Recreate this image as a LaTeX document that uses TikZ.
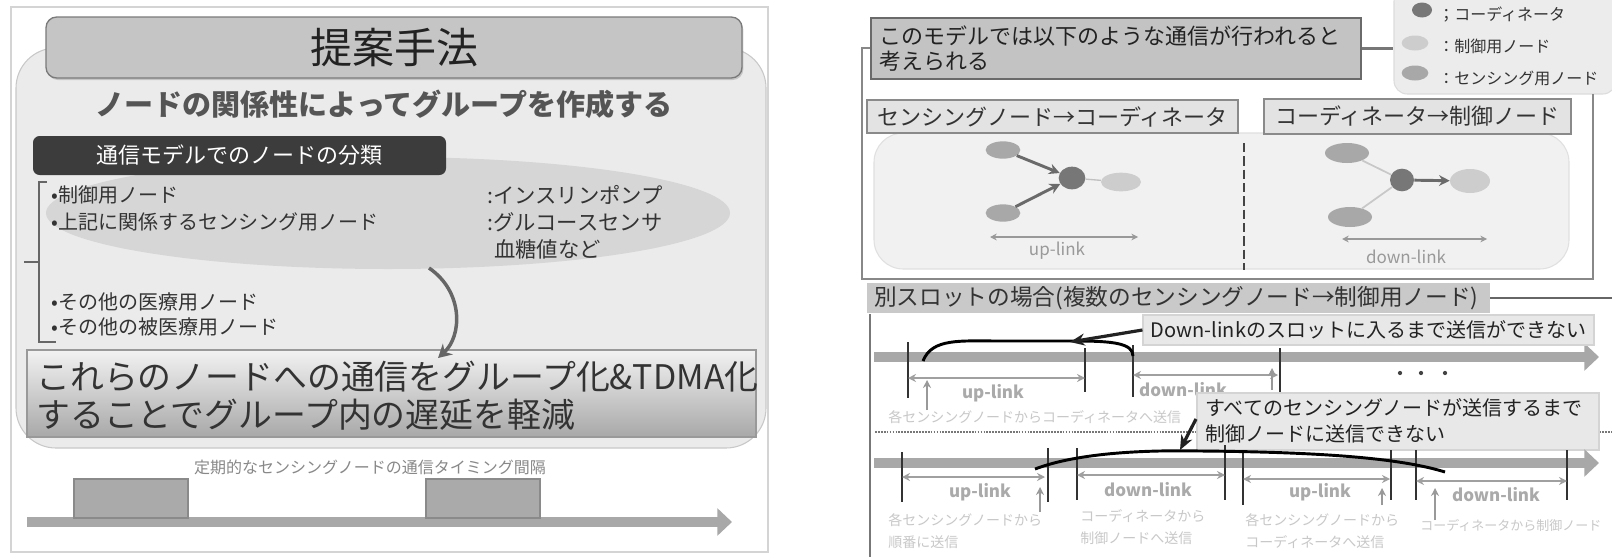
\documentclass[tikz,border=0pt]{standalone}
\usepackage{fontspec}
\setmainfont{Noto Sans CJK JP}
\usetikzlibrary{fit,shapes.geometric,arrows.meta,shadows}
\definecolor{c22}{HTML}{222222}
\definecolor{c33}{HTML}{333333}
\definecolor{c3C}{HTML}{3C3C3C}
\definecolor{c44}{HTML}{444444}
\definecolor{c55}{HTML}{555555}
\definecolor{c66}{HTML}{666666}
\definecolor{c6A}{HTML}{6A6A6A}
\definecolor{c77}{HTML}{777777}
\definecolor{c7A}{HTML}{7A7A7A}
\definecolor{c88}{HTML}{888888}
\definecolor{c8A}{HTML}{8A8A8A}
\definecolor{c99}{HTML}{999999}
\definecolor{cA0}{HTML}{A0A0A0}
\definecolor{cA8}{HTML}{A8A8A8}
\definecolor{cAA}{HTML}{AAAAAA}
\definecolor{cC0}{HTML}{C0C0C0}
\definecolor{cC3}{HTML}{C3C3C3}
\definecolor{cC5}{HTML}{C5C5C5}
\definecolor{cC8}{HTML}{C8C8C8}
\definecolor{cC9}{HTML}{C9C9C9}
\definecolor{cCD}{HTML}{CDCDCD}
\definecolor{cD4}{HTML}{D4D4D4}
\definecolor{cD6}{HTML}{D6D6D6}
\definecolor{cDC}{HTML}{DCDCDC}
\definecolor{cE0}{HTML}{E0E0E0}
\definecolor{cE3}{HTML}{E3E3E3}
\definecolor{cE8}{HTML}{E8E8E8}
\definecolor{cEB}{HTML}{EBEBEB}
\definecolor{cEC}{HTML}{ECECEC}
\definecolor{cF1}{HTML}{F1F1F1}
\definecolor{cF2}{HTML}{F2F2F2}
\newcommand\fz[2]{\fontsize{#1pt}{#2pt}\selectfont}
\tikzset{
  txt/.style={inner sep=0pt,text=c33},
  boxfit/.style={inner sep=0pt},
  tickline/.style={draw=c33,line width=1.9pt},
  linkarr/.style={draw=cA0,line width=1.8pt,{Stealth[length=6pt,width=6pt]}-{Stealth[length=6pt,width=6pt]}},
  thinlink/.style={draw=c99,line width=1.1pt,{Stealth[length=5pt,width=5pt]}-{Stealth[length=5pt,width=5pt]}},
  uparr/.style={draw=c99,line width=1.8pt,-{Stealth[length=6pt,width=6pt]}},
  linklbl/.style={inner sep=0pt,text=cAA,font=\bfseries\fz{12.75}{14}},
  scenelbl/.style={inner sep=0pt,text=c99,font=\fz{12.75}{14}},
  band/.style={draw=cA8,line width=7pt,-{Triangle[length=11pt,width=20pt]}},
  curveline/.style={draw=black,line width=2.2pt},
  calarr/.style={draw=c22,line width=2.4pt,-{Stealth[length=11pt,width=9pt]}},
  garble/.style={inner sep=0pt,text=cC8,font=\fz{10.5}{17}},
  callout/.style={inner sep=0pt,fill=cE8,draw=cD4,line width=0.8pt},
  bullet/.style={inner sep=0pt,anchor=west,text=c33,font=\fz{15}{17}},
  sensing/.style={ellipse,fill=cA8,inner sep=0pt},
  coord/.style={ellipse,fill=c77,inner sep=0pt},
  control/.style={ellipse,fill=cCD,inner sep=0pt},
  heavyarr/.style={draw=c6A,line width=2.2pt,-{Stealth[length=8pt,width=8pt]}},
  legtxt/.style={inner sep=0pt,anchor=west,text=c33,font=\fz{12}{14}}
}
\begin{document}
\begin{tikzpicture}[x=0.75pt,y=-0.75pt]
\useasboundingbox[fill=white] (0,0) rectangle (1612,557);

% ================= LEFT =================
\node[boxfit,fit={(11,7)(768,552)},draw=cD4,line width=0.8pt] (frameL) {};
\node[boxfit,fit={(16,48)(766,448)},draw=cC8,fill=cEB,rounded corners=30pt,line width=0.8pt] (panel) {};
\node[boxfit,fit={(46,17)(742,78)},draw=c7A,fill=cC5,rounded corners=8pt,line width=1pt,
      drop shadow={opacity=0.35,shadow xshift=1pt,shadow yshift=-1.5pt}] (title) {};
\node[txt,font=\fz{31.5}{34},text=c22] (titlet) at (title.center) {提案手法};
\node[txt,font=\bfseries\fz{21.8}{24},text=c55] (sub) at (384,104) {ノードの関係性によってグループを作成する};
\node[ellipse,fill=cD6,minimum width=513pt,minimum height=84pt,inner sep=0pt] (ell) at (388,213) {};
\node[boxfit,fit={(33,136)(446,175)},fill=c3C,rounded corners=5pt] (cat) {};
\node[txt,font=\fz{16.5}{18},text=white] (catt) at (cat.center) {通信モデルでのノードの分類};

\coordinate (brT) at (47,182);
\coordinate (brB) at (56,342);
\coordinate (brM) at (24,262);
\draw[c66,line width=1pt] (brT) -- (39,182) -- (39,342) -- (brB);
\draw[c66,line width=1pt] (39,262) -- (brM);

\node[bullet] (b1) at (51,195) {•制御用ノード};
\node[bullet] (b2) at (51,222) {•上記に関係するセンシング用ノード};
\node[bullet,font=\fz{16}{18}] (e1) at (487,195) {:インスリンポンプ};
\node[bullet,font=\fz{16}{18}] (e2) at (487,222) {:グルコースセンサ};
\node[bullet,font=\fz{16}{18}] (e3) at (494,249) {血糖値など};
\node[bullet] (b3) at (51,302) {•その他の医療用ノード};
\node[bullet] (b4) at (51,327) {•その他の被医療用ノード};

\node[boxfit,fit={(27,350)(756,437)},draw=c99,top color=cF2,bottom color=cA8,line width=0.8pt] (big) {};
\node[txt,anchor=west,align=left,font=\fz{25.4}{28.5}] (bigt) at (36,396)
  {これらのノードへの通信をグループ化\&TDMA化\\することでグループ内の遅延を軽減};

\coordinate (ca1) at (429,268);
\coordinate (ca2) at (438,358);
\draw[c66,line width=2.6pt,-{Stealth[length=10pt,width=11pt]}] (ca1) .. controls (464,292) and (462,336) .. (ca2);

\node[txt,font=\fz{12}{14},text=c88] (gapl) at (370,467) {定期的なセンシングノードの通信タイミング間隔};
\coordinate (tl0) at (27,522);
\coordinate (tl1) at (732,522);
\draw[band] (tl0) -- (tl1);
\node[boxfit,fit={(74,479)(188,518)},fill=cAA,draw=c8A,line width=1pt] (slotA) {};
\node[boxfit,fit={(426,479)(540,518)},fill=cAA,draw=c8A,line width=1pt] (slotB) {};

% ================= RIGHT TOP =================
\node[boxfit,fit={(1394,-12)(1616,94)},fill=cEC,draw=cDC,rounded corners=10pt,line width=0.8pt] (legend) {};
\node[coord,minimum width=15pt,minimum height=11.25pt] (lgC) at (1422,10) {};
\node[control,minimum width=20pt,minimum height=11.25pt] (lgK) at (1415,43) {};
\node[sensing,minimum width=20pt,minimum height=11.25pt] (lgS) at (1415,73) {};
\node[legtxt] (lgCt) at (1438,15) {；コーディネータ};
\node[legtxt] (lgKt) at (1438,46) {：制御用ノード};
\node[legtxt] (lgSt) at (1438,78) {：センシング用ノード};

\node[boxfit,fit={(871,18)(1361,79)},fill=cC3,draw=c6A,line width=1.8pt] (model) {};
\node[txt,anchor=west,align=left,font=\fz{16.5}{18.75},text=c22] (modelt) at (879,49)
  {このモデルでは以下のような通信が行われると\\考えられる};
\draw[c77,line width=1.8pt] (model.east) -- (model.east -| legend.west);
\coordinate (fr1) at (862,48);
\coordinate (fr2) at (862,279);
\coordinate (fr3) at (1593,279);
\coordinate (fr4) at (1593,94);
\draw[c88,line width=1.5pt] (model.west |- fr1) -- (fr1) -- (fr2) -- (fr3) -- (fr4);

\node[boxfit,fit={(874,133)(1569,269)},fill=cF1,draw=cE0,rounded corners=22pt,line width=0.8pt] (scene) {};
\node[boxfit,fit={(867,100)(1238,133)},fill=cE3,draw=c8A,line width=1.2pt] (h1) {};
\node[txt,font=\fz{16.5}{18}] (h1t) at (h1.center) {センシングノード→コーディネータ};
\node[boxfit,fit={(1264,99)(1571,134)},fill=cE3,draw=c8A,line width=1.2pt] (h2) {};
\node[txt,font=\fz{16.5}{18}] (h2t) at (h2.center) {コーディネータ→制御ノード};
\coordinate (dv1) at (1244,143);
\coordinate (dv2) at (1244,270);
\draw[c44,line width=2.2pt,dash pattern=on 7pt off 3pt] (dv1) -- (dv2);

% left scene
\node[sensing,minimum width=26pt,minimum height=13pt] (S1) at (1003,150) {};
\node[sensing,minimum width=26pt,minimum height=13pt] (S2) at (1003,213) {};
\node[coord,minimum width=20pt,minimum height=17pt] (C1) at (1072,178) {};
\node[control,minimum width=30pt,minimum height=14pt] (K1) at (1121,182) {};
\draw[cC0,line width=1pt] (C1) -- (K1);
\draw[heavyarr] (S1) -- (C1);
\draw[heavyarr] (S2) -- (C1);
\coordinate (ul1) at (990,237);
\coordinate (ul2) at (1138,237);
\draw[thinlink] (ul1) -- (ul2);
\node[scenelbl] (ult) at (1057,251) {up-link};

% right scene
\node[sensing,minimum width=33pt,minimum height=15pt] (S3) at (1347,153) {};
\node[sensing,minimum width=33pt,minimum height=15pt] (S4) at (1350,217) {};
\node[coord,minimum width=18pt,minimum height=17pt] (C2) at (1402,180) {};
\node[control,minimum width=30pt,minimum height=18pt] (K2) at (1470,181) {};
\draw[cC8,line width=1.3pt] (S3) -- (C2);
\draw[cC8,line width=1.3pt] (S4) -- (C2);
\draw[heavyarr] (C2) -- (K2);
\coordinate (dl1) at (1342,239);
\coordinate (dl2) at (1487,239);
\draw[thinlink] (dl1) -- (dl2);
\node[scenelbl] (dlt) at (1406,257) {down-link};

% ================= RIGHT BOTTOM =================
\node[boxfit,fit={(867,283)(1490,313)},fill=cC9] (slothdr) {};
\node[txt,anchor=west,font=\fz{17}{19}] (slott) at (874,298) {別スロットの場合(複数のセンシングノード→制御用ノード)};
\coordinate (sh2) at (1612,298);
\draw[c66,line width=2pt] (slothdr.east) -- (sh2);
\coordinate (vl1) at (870,314);
\coordinate (vl2) at (870,557);
\draw[c77,line width=1.8pt] (vl1) -- (vl2);

% row 1
\draw[band] (874,357) -- (1599,357);
\draw[tickline] (908,342) -- (908,398);
\draw[tickline] (1085,348) -- (1085,392);
\draw[tickline] (1133,345) -- (1133,397);
\draw[tickline] (1280,348) -- (1280,400);
\draw[linkarr] (908,378) -- (1085,378);
\draw[linkarr] (1133,375) -- (1278,375);
\draw[uparr] (927,410) -- (927,380);
\draw[uparr] (1272,390) -- (1272,368);
\node[linklbl] (r1u) at (993,393) {up-link};
\node[linklbl] (r1d) at (1183,390) {down-link};
\coordinate (k1a) at (923,361);
\coordinate (k1b) at (1133,356);
\draw[curveline] (k1a) .. controls (932,338) and (960,341) .. (1000,341) -- (1075,341) .. controls (1112,341) and (1133,343) .. (k1b);
\fill[c44] (1400,373) circle (1.6pt);
\fill[c44] (1421,373) circle (1.6pt);
\fill[c44] (1445,373) circle (1.6pt);
\node[garble,anchor=west] (g1) at (888,417) {各センシングノードからコーディネータへ送信};
\coordinate (dt1) at (875,432);
\coordinate (dt2) at (1612,432);
\draw[c77,line width=1.6pt,dash pattern=on 1.3pt off 0.9pt] (dt1) -- (dt2);

\node[callout,fit={(1143,315)(1594,345)}] (call1) {};
\node[txt,font=\fz{15}{17},text=c22] (call1t) at (call1.center) {Down-linkのスロットに入るまで送信ができない};
\coordinate (t1) at (1070,342);
\draw[calarr] (call1.west) -- (t1);

\node[callout,fit={(1197,393)(1599,450)}] (call2) {};
\node[txt,anchor=west,align=left,font=\fz{15}{19.5},text=c22] (call2t) at (1205,421)
  {すべてのセンシングノードが送信するまで\\制御ノードに送信できない};

% row 2
\draw[band] (874,463) -- (1599,463);
\draw[tickline] (902,452) -- (902,502);
\draw[tickline] (1048,448) -- (1048,502);
\draw[tickline] (1077,448) -- (1077,500);
\draw[tickline] (1225,445) -- (1225,500);
\draw[tickline] (1243,452) -- (1243,505);
\draw[tickline] (1391,450) -- (1391,500);
\draw[tickline] (1416,450) -- (1416,500);
\draw[tickline] (1567,450) -- (1567,500);
\draw[linkarr] (902,477) -- (1045,477);
\draw[linkarr] (1077,475) -- (1225,475);
\draw[linkarr] (1243,479) -- (1390,479);
\draw[linkarr] (1416,481) -- (1567,481);
\draw[uparr] (1040,512) -- (1040,487);
\draw[uparr] (1382,505) -- (1382,488);
\draw[uparr] (1435,520) -- (1435,488);
\node[linklbl] (r2u1) at (980,492) {up-link};
\node[linklbl] (r2d1) at (1148,490) {down-link};
\node[linklbl] (r2u2) at (1320,492) {up-link};
\node[linklbl] (r2d2) at (1496,495) {down-link};
\coordinate (k2a) at (1035,469);
\coordinate (k2b) at (1445,472);
\draw[curveline] (k2a) .. controls (1080,452) and (1150,450) .. (1200,451) .. controls (1320,452) and (1400,458) .. (k2b);
\coordinate (t2) at (1180,450);
\draw[calarr] (1196,419) -- (t2);

\node[garble,anchor=west,align=left] (g2) at (888,531) {各センシングノードから\\順番に送信};
\node[garble,anchor=west,align=left] (g3) at (1080,527) {コーディネータから\\制御ノードへ送信};
\node[garble,anchor=west,align=left] (g4) at (1245,531) {各センシングノードから\\コーディネータへ送信};
\node[garble,anchor=west,font=\fz{9.75}{12}] (g5) at (1420,525) {コーディネータから制御ノード};
\end{tikzpicture}
\end{document}
